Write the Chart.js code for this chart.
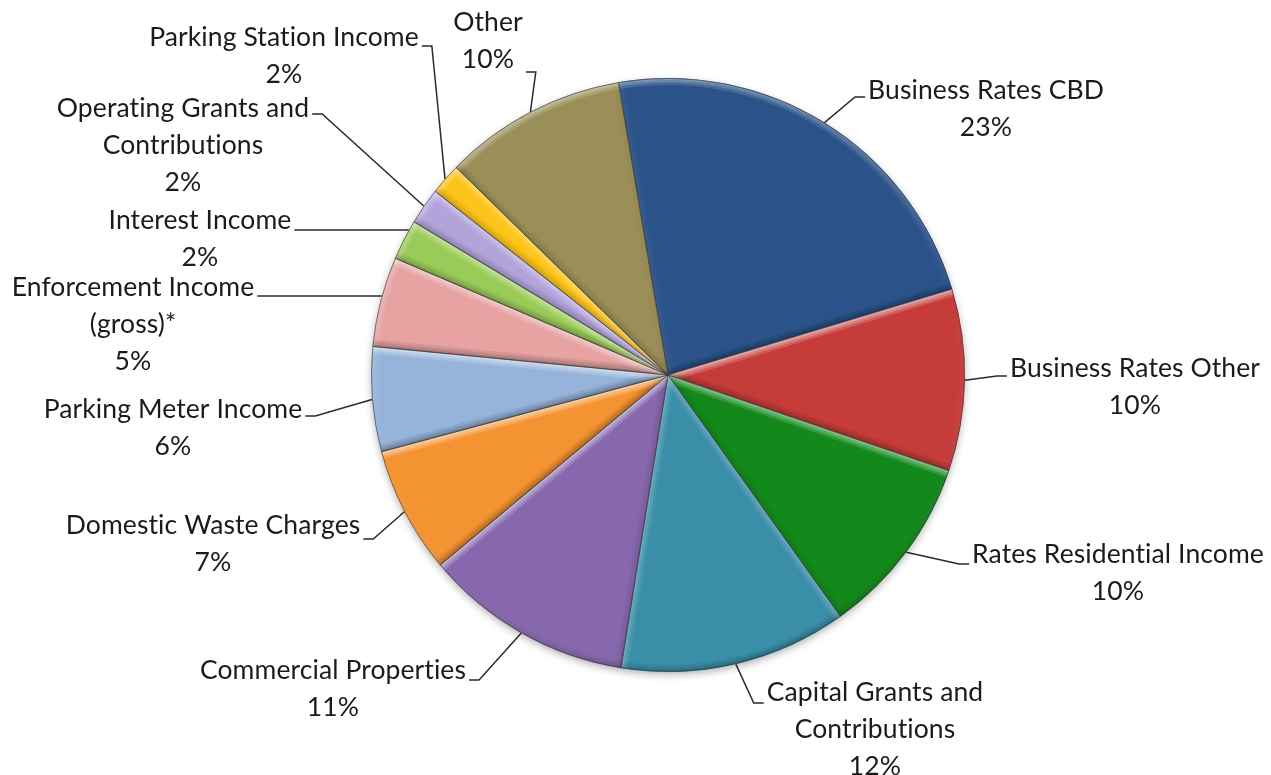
<!DOCTYPE html>
<html>
<head>
<meta charset="utf-8">
<script src="https://cdn.jsdelivr.net/npm/chart.js@4/dist/chart.umd.min.js"></script>
<style>
  html, body { margin: 0; padding: 0; background: #fff; }
  #wrap { width: 1271px; height: 775px; }
</style>
</head>
<body>
<div id="wrap"><canvas id="chart" width="1271" height="775"></canvas></div>
<script>
// --- DATA (share of income, %) ---
const categories = [
  'Business Rates CBD', 'Business Rates Other', 'Rates Residential Income',
  'Capital Grants and Contributions', 'Commercial Properties', 'Domestic Waste Charges',
  'Parking Meter Income', 'Enforcement Income (gross)*', 'Interest Income',
  'Operating Grants and Contributions', 'Parking Station Income', 'Other'
];
const shares = [23.0, 9.9, 9.9, 12.4, 11.4, 6.9, 5.7, 4.9, 2.2, 2.0, 1.7, 10.0];

// label text, broken over lines the way the chart shows it
const labelLines = [
  ['Business Rates CBD'], ['Business Rates Other'], ['Rates Residential Income'],
  ['Capital Grants and', 'Contributions'], ['Commercial Properties'], ['Domestic Waste Charges'],
  ['Parking Meter Income'], ['Enforcement Income', '(gross)*'], ['Interest Income'],
  ['Operating Grants and', 'Contributions'], ['Parking Station Income'], ['Other']
];

// --- STYLE ---
const sliceColors = [
  '#2B5389', '#C53C3A', '#12891A', '#3A8EA8', '#8768AE', '#F49331',
  '#96B4DA', '#E6A3A2', '#9ACB58', '#B3A3DB', '#FDC419', '#9A8F59'
];

// label placement: text centre x, first line centre y, side of the pie, leader stub y
// flat: leader runs level from the pie edge instead of from the slice middle
const labelPos = [
  { x: 986,  y: 90,  side: 'R', stubY: 97 },
  { x: 1135, y: 368, side: 'R', stubY: 376 },
  { x: 1118, y: 554, side: 'R', stubY: 564 },
  { x: 875,  y: 692, side: 'R', stubY: 703 },
  { x: 333,  y: 670, side: 'L', stubY: 680 },
  { x: 213,  y: 525, side: 'L', stubY: 539 },
  { x: 173,  y: 409, side: 'L', stubY: 416 },
  { x: 133,  y: 287, side: 'L', stubY: 296, flat: true },
  { x: 200,  y: 220, side: 'L', stubY: 230, flat: true },
  { x: 183,  y: 108, side: 'L', stubY: 114 },
  { x: 284,  y: 37,  side: 'L', stubY: 46 },
  { x: 488,  y: 22,  side: 'L', stubY: 72 }
];
const LINE_H = 37;
const FONT = '26.5px Lato';
const LIGHT = { x: -0.25, y: -0.97 };  // light comes from above, a little left

const total = shares.reduce((a, b) => a + b, 0);

// soft drop shadow under the whole pie
const pieShadow = {
  id: 'pieShadow',
  beforeDatasetsDraw(chart) {
    const arc = chart.getDatasetMeta(0).data[0];
    if (!arc) return;
    const ctx = chart.ctx;
    ctx.save();
    ctx.shadowColor = 'rgba(0,0,0,0.35)';
    ctx.shadowBlur = 9;
    ctx.shadowOffsetY = 3;
    ctx.fillStyle = '#fff';
    ctx.beginPath();
    ctx.arc(arc.x, arc.y, arc.outerRadius - 1, 0, Math.PI * 2);
    ctx.fill();
    ctx.restore();
  }
};

// bevel: each edge of a slice gets light or shade depending on which way it faces
function edgeTone(nx, ny) {
  const d = nx * LIGHT.x + ny * LIGHT.y;
  return d >= 0 ? `rgba(255,255,255,${0.5 * d})` : `rgba(0,0,0,${0.22 * -d})`;
}

const bevel = {
  id: 'bevel',
  afterDatasetsDraw(chart) {
    const ctx = chart.ctx;
    chart.getDatasetMeta(0).data.forEach(arc => {
      const { x, y, startAngle: a0, endAngle: a1, outerRadius: r } = arc;
      ctx.save();
      ctx.beginPath();
      ctx.moveTo(x, y);
      ctx.arc(x, y, r - 0.5, a0, a1);
      ctx.closePath();
      ctx.clip();

      // outer rim: graded from lit top to shaded bottom
      const g = ctx.createLinearGradient(x + LIGHT.x * r, y + LIGHT.y * r, x - LIGHT.x * r, y - LIGHT.y * r);
      g.addColorStop(0, 'rgba(255,255,255,0.40)');
      g.addColorStop(0.5, 'rgba(255,255,255,0)');
      g.addColorStop(1, 'rgba(0,0,0,0.22)');

      // two straight edges, outward normals
      const edges = [
        { a: a0, nx: Math.sin(a0), ny: -Math.cos(a0) },
        { a: a1, nx: -Math.sin(a1), ny: Math.cos(a1) }
      ];

      [[14, 0.35], [9, 0.45], [4, 0.6]].forEach(([w, k]) => {
        ctx.globalAlpha = k;
        ctx.lineWidth = w;
        ctx.strokeStyle = g;
        ctx.beginPath();
        ctx.arc(x, y, r, a0, a1);
        ctx.stroke();
        edges.forEach(e => {
          ctx.strokeStyle = edgeTone(e.nx, e.ny);
          ctx.beginPath();
          ctx.moveTo(x, y);
          ctx.lineTo(x + Math.cos(e.a) * r, y + Math.sin(e.a) * r);
          ctx.stroke();
        });
      });
      ctx.restore();

      // thin dark outline
      ctx.save();
      ctx.strokeStyle = 'rgba(50,50,50,0.55)';
      ctx.lineWidth = 1;
      ctx.beginPath();
      ctx.moveTo(x, y);
      ctx.arc(x, y, r - 0.5, a0, a1);
      ctx.closePath();
      ctx.stroke();
      ctx.restore();
    });
  }
};

// outside labels with elbow leader lines
const leaderLabels = {
  id: 'leaderLabels',
  afterDraw(chart) {
    const ctx = chart.ctx;
    const meta = chart.getDatasetMeta(0);
    ctx.save();
    ctx.font = FONT;
    ctx.letterSpacing = '0.1px';  // also keeps "ti" from joining
    ctx.textAlign = 'center';
    ctx.textBaseline = 'middle';
    meta.data.forEach((arc, i) => {
      const p = labelPos[i];
      const lines = [...labelLines[i], Math.round(shares[i] / total * 100) + '%'];
      ctx.fillStyle = '#1b1b1b';
      lines.forEach((t, k) => ctx.fillText(t, p.x, p.y + k * LINE_H));

      const halfW = Math.max(...lines.map(t => ctx.measureText(t).width)) / 2;
      let ax, ay;
      if (p.flat) {
        const dy = p.stubY - arc.y;
        const dx = Math.sqrt(arc.outerRadius * arc.outerRadius - dy * dy);
        ax = arc.x + (p.side === 'L' ? -dx : dx);
        ay = p.stubY;
      } else {
        const mid = (arc.startAngle + arc.endAngle) / 2;
        ax = arc.x + Math.cos(mid) * arc.outerRadius;
        ay = arc.y + Math.sin(mid) * arc.outerRadius;
      }
      let stubEnd, stubStart;
      if (p.side === 'R') { stubEnd = p.x - halfW - 3; stubStart = stubEnd - 10; }
      else { stubEnd = p.x + halfW + 3; stubStart = stubEnd + 10; }
      ctx.strokeStyle = '#2a2a2a';
      ctx.lineWidth = 1.5;
      ctx.beginPath();
      ctx.moveTo(ax, ay);
      ctx.lineTo(stubStart, p.stubY);
      ctx.lineTo(stubEnd, p.stubY);
      ctx.stroke();
    });
    ctx.restore();
  }
};

new Chart(document.getElementById('chart'), {
  type: 'pie',
  data: {
    labels: categories,
    datasets: [{
      data: shares,
      backgroundColor: sliceColors,
      borderWidth: 0,
      hoverOffset: 0
    }]
  },
  options: {
    responsive: false,
    animation: false,
    rotation: -9.6,
    layout: { padding: { left: 371, right: 306, top: 78, bottom: 103 } },
    plugins: {
      legend: { display: false },
      tooltip: { enabled: false }
    }
  },
  plugins: [pieShadow, bevel, leaderLabels]
});
</script>
</body>
</html>
